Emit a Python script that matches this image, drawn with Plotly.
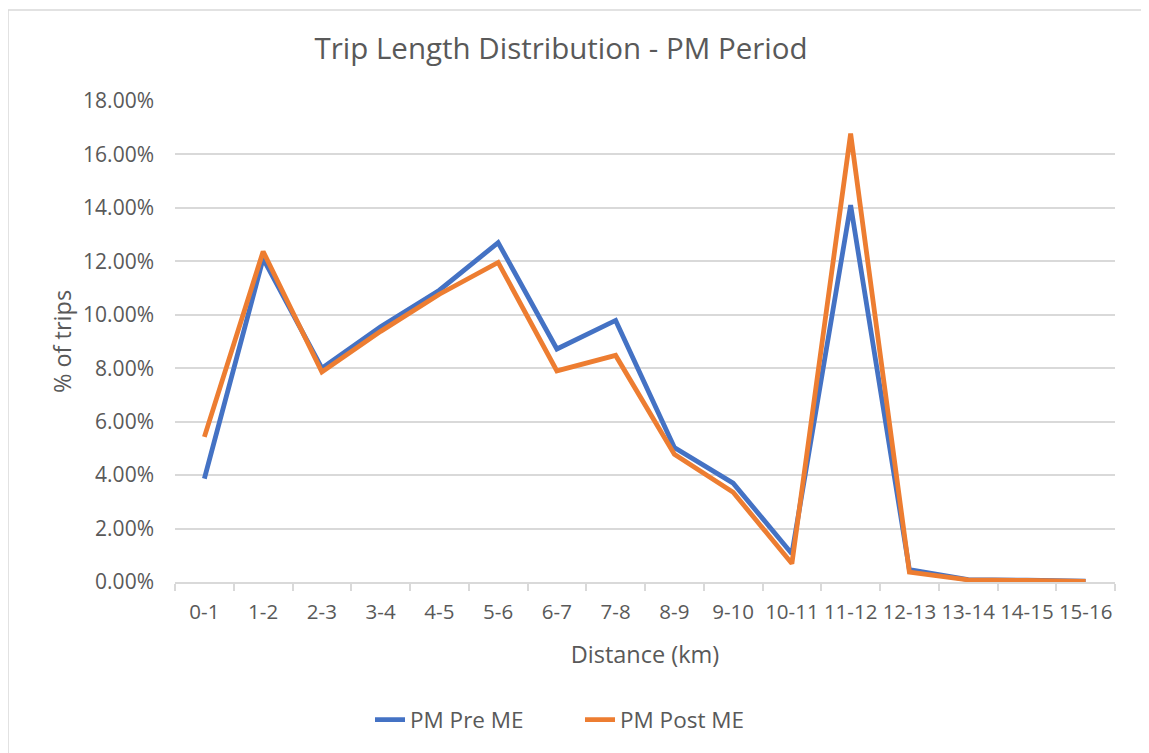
import plotly.graph_objects as go

categories = ["0-1", "1-2", "2-3", "3-4", "4-5", "5-6", "6-7", "7-8",
              "8-9", "9-10", "10-11", "11-12", "12-13", "13-14", "14-15", "15-16"]
pm_pre_me = [0.0387, 0.1210, 0.0800, 0.0955, 0.1092, 0.1270, 0.0872, 0.0979,
             0.0503, 0.0370, 0.0106, 0.1410, 0.0046, 0.0009, 0.0007, 0.0003]
pm_post_me = [0.0543, 0.1237, 0.0786, 0.0938, 0.1077, 0.1196, 0.0790, 0.0848,
              0.0478, 0.0336, 0.0069, 0.1678, 0.0037, 0.0008, 0.0006, 0.0002]

FONT = "Open Sans"
GREY = "#595959"

# page body adds an 8px offset; figure is sized/positioned to compensate
W, H = 1141, 745
OFF = 8

fig = go.Figure()
fig.add_trace(go.Scatter(x=categories, y=pm_pre_me, mode="lines", name="PM Pre ME",
                         line=dict(color="#4472C4", width=4.8)))
fig.add_trace(go.Scatter(x=categories, y=pm_post_me, mode="lines", name="PM Post ME",
                         line=dict(color="#ED7D31", width=4.8)))

fig.update_layout(
    width=W, height=H,
    margin=dict(l=175 - OFF, r=34, t=101 - OFF, b=171, autoexpand=False),
    paper_bgcolor="white", plot_bgcolor="white",
    font=dict(family=FONT, color=GREY, size=20),
    title=dict(text="Trip Length Distribution - PM Period", x=(561 - OFF) / W, xanchor="center",
               y=1 - (49 - OFF) / H, yanchor="middle", font=dict(size=29.5, color=GREY, family=FONT)),
    showlegend=True,
    legend=dict(orientation="h", x=(580 - 175) / 940, xanchor="center", y=-0.287, yanchor="middle",
                font=dict(size=22.5, color=GREY), traceorder="normal", entrywidth=165),
    xaxis=dict(
        type="category", range=[-0.5, len(categories) - 0.5], automargin=False,
        showgrid=False, showline=True, linecolor="#D9D9D9", linewidth=1.5,
        ticks="outside", tickson="boundaries", ticklen=7, tickcolor="#D9D9D9", tickwidth=1.5,
        tickfont=dict(size=20.5, color=GREY), ticklabelstandoff=11, tickangle=0,
        title=dict(text="Distance (km)", font=dict(size=23.5, color=GREY), standoff=22),
        zeroline=False,
    ),
    yaxis=dict(
        range=[0, 0.18], dtick=0.02, tickformat=".2%", automargin=False,
        showgrid=True, gridcolor="#D9D9D9", gridwidth=1.5,
        showline=False, zeroline=False, ticks="",
        tickfont=dict(size=21, color=GREY), ticklabelstandoff=20,
        title=dict(text="% of trips", font=dict(size=23.5, color=GREY), standoff=4),
    ),
    shapes=[dict(type="rect", xref="paper", yref="paper",
                 x0=(8 - 175) / 940, x1=(1143 - 175) / 940,
                 y0=(582 - 770) / 481, y1=(582 - 10) / 481,
                 line=dict(color="#D9D9D9", width=1.5), fillcolor="rgba(0,0,0,0)", layer="below")],
)

fig.write_html("out.html")
